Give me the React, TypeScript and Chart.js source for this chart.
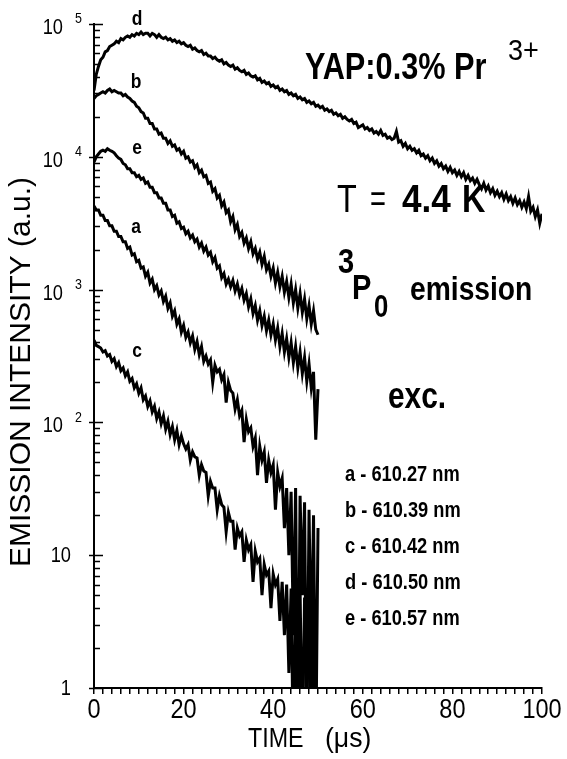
import React, { useEffect, useRef } from 'react';
import { Chart, registerables } from 'chart.js';

Chart.register(...registerables);

// ---- data (time step 0.5 us) ----
const T_STEP = 0.5;

const curveIds = ['a', 'b', 'c', 'd', 'e'];
const excitationNm = ['610.27', '610.39', '610.42', '610.50', '610.57'];

const intensityA = [
  4270, 3980, 3980, 3630, 3630, 3310, 3310, 3020, 3020, 2750,
  2750, 2510, 2510, 2290, 2290, 2040, 2090, 1820, 1860, 1620,
  1660, 1450, 1480, 1260, 1350, 1120, 1200, 1000, 1070, 912,
  977, 813, 891, 724, 794, 631, 692, 550, 603, 479,
  537, 437, 479, 398, 447, 355, 407, 324, 372, 288,
  316, 275, 295, 200, 269, 240, 251, 209, 229, 141,
  200, 174, 166, 126, 148, 112, 123, 71, 105, 85,
  91, 66, 76, 40, 66, 52, 60, 35, 52, 42,
  48, 22, 42, 33, 38, 16, 32, 10, 30, 2.5,
  32, 0.3, 28, 5, 25, 0.3, 22, 1.6, 20, 0.3,
  16,
];

const intensityB = [
  27500, 28800, 29500, 30200, 30900, 30200, 31600, 32400, 30900, 31600,
  30900, 30200, 30200, 28800, 29500, 28200, 27500, 26300, 25700, 24000,
  23400, 21900, 21400, 19500, 19500, 17800, 17800, 16200, 16200, 14800,
  15100, 13800, 13800, 12600, 13200, 12000, 12300, 11200, 11500, 10500,
  11000, 9770, 10000, 9120, 9330, 8320, 8710, 7590, 7940, 7080,
  7240, 6310, 6460, 5500, 5750, 4900, 5130, 4270, 4570, 3800,
  3980, 3240, 3550, 2820, 3090, 2510, 2690, 2240, 2450, 2040,
  2290, 1860, 2040, 1700, 1910, 1550, 1780, 1410, 1550, 1260,
  1450, 1120, 1350, 1050, 1260, 955, 1150, 871, 1100, 794,
  1000, 724, 933, 676, 851, 603, 759, 550, 692, 501,
  457,
];

const intensityC = [
  417, 380, 372, 363, 339, 347, 316, 324, 288, 302,
  263, 282, 245, 257, 224, 240, 204, 214, 182, 195,
  166, 182, 148, 158, 132, 145, 120, 132, 107, 120,
  98, 112, 89, 102, 81, 93, 74, 87, 68, 79,
  69, 63, 68, 52, 60, 55, 54, 40, 48, 43,
  42, 28, 36, 32, 32, 22, 28, 24, 23, 15,
  21, 18, 18, 11, 16, 14, 15, 8.9, 13, 11,
  12, 6.3, 10.7, 8.9, 9.5, 5.0, 8.5, 7.1, 7.6, 4.0,
  7.2, 6.0, 6.6, 3.2, 6.3, 2.5, 6.0, 1.3, 5.6, 0.3,
  5.2, 0.5, 5.6, 0.3, 4.8, 2.0, 5.0, 0.3, 4.5, 0.6,
  0.3,
];

const intensityD = [
  31600, 41700, 47900, 53700, 56200, 61700, 63100, 67600, 69200, 70800,
  74100, 72400, 77600, 75900, 79400, 81300, 79400, 83200, 81300, 85100,
  83200, 87100, 83200, 85100, 85100, 81300, 85100, 83200, 79400, 83200,
  79400, 77600, 79400, 75900, 77600, 74100, 75900, 72400, 74100, 70800,
  72400, 69200, 67600, 69200, 64600, 66100, 63100, 61700, 63100, 58900,
  60300, 57500, 57500, 55000, 56200, 53700, 52500, 53700, 50100, 51300,
  49000, 47900, 49000, 45700, 46800, 44700, 43700, 44700, 41700, 42700,
  40700, 39800, 40700, 38000, 38900, 36300, 37200, 35500, 36300, 33900,
  34700, 33100, 33900, 31600, 32400, 30900, 31600, 29500, 30200, 28800,
  29500, 27500, 28200, 26900, 27500, 25700, 26300, 25100, 25700, 24000,
  24500, 23400, 24000, 22400, 22900, 21900, 22400, 20900, 21400, 20400,
  20900, 19500, 20000, 19100, 18600, 19100, 17800, 18200, 16600, 17000,
  17400, 16200, 16600, 15800, 16200, 15100, 15500, 14800, 15800, 14500,
  14800, 13800, 14100, 13500, 13800, 15500, 12900, 13200, 12000, 12600,
  11500, 12000, 11200, 11500, 10700, 11200, 10200, 10500, 9770, 10200,
  9330, 9770, 8910, 9330, 8510, 8910, 8130, 8510, 7760, 8320,
  7590, 7940, 7240, 7760, 7080, 7590, 6760, 7240, 6610, 6920,
  6310, 6760, 6170, 5750, 6310, 5620, 6030, 5370, 5750, 5130,
  5500, 5010, 5370, 4790, 5250, 4680, 5010, 4470, 4900, 4370,
  4680, 4170, 4570, 4070, 5010, 3890, 4170, 3550, 3980, 3160,
  3720,
];

const intensityE = [
  9120, 10000, 10500, 11000, 11200, 11000, 11500, 11200, 11000, 10700,
  10200, 9770, 9550, 8910, 8710, 8130, 8130, 7590, 7590, 7080,
  7240, 6760, 6920, 6310, 6460, 5890, 5890, 5370, 5370, 4900,
  4900, 4470, 4470, 3980, 3980, 3550, 3630, 3160, 3240, 2880,
  2950, 2630, 2750, 2450, 2570, 2290, 2400, 2090, 2240, 1950,
  2090, 1820, 1910, 1620, 1740, 1450, 1510, 1230, 1320, 1100,
  1200, 1050, 1170, 977, 1100, 912, 1020, 832, 933, 741,
  851, 661, 759, 589, 692, 537, 631, 490, 589, 457,
  550, 417, 513, 372, 468, 339, 427, 309, 398, 282,
  372, 257, 339, 234, 309, 204, 275, 182, 240, 74,
  178,
];

const seriesValues = [intensityA, intensityB, intensityC, intensityD, intensityE];

const xTickLabels = [0, 20, 40, 60, 80, 100];
const yDecades = [1, 10, 100, 1000, 10000, 100000];
const yTickBase = ['1', '10', '10', '10', '10', '10'];
const yTickExp = ['', '', '2', '3', '4', '5'];

const Y_TITLE = 'EMISSION INTENSITY (a.u.)';

// ---- styling / layout ----
const SANS = "'Liberation Sans', Arial, sans-serif";
const NARROW_X = 0.83; // horizontal squeeze to mimic a condensed face

const curveLabelPos: Record<string, [number, number]> = {
  d: [137, 19],
  b: [136, 82],
  e: [137, 148],
  a: [136, 227],
  c: [137, 351],
};

function txt(
  ctx: CanvasRenderingContext2D,
  s: string,
  x: number,
  y: number,
  font: string,
  align: CanvasTextAlign = 'left',
  sx: number = NARROW_X,
) {
  ctx.save();
  ctx.font = font;
  ctx.textAlign = align;
  ctx.textBaseline = 'middle';
  ctx.translate(x, y);
  ctx.scale(sx, 1);
  ctx.fillText(s, 0, 0);
  ctx.restore();
}

const decorPlugin = {
  id: 'decor',
  afterDraw(chart: any) {
    const { ctx, chartArea } = chart;
    const ys = chart.scales.y;
    const xs = chart.scales.x;
    const L = chartArea.left;
    const B = chartArea.bottom;
    ctx.save();
    ctx.strokeStyle = '#000';
    ctx.fillStyle = '#000';
    ctx.lineWidth = 1.5;

    // inside ticks on the log axis
    ctx.beginPath();
    yDecades.forEach((dv, i) => {
      const py = Math.round(ys.getPixelForValue(dv)) + 0.5;
      ctx.moveTo(L - 5, py);
      ctx.lineTo(L + 9, py);
      if (i < yDecades.length - 1) {
        for (let m = 2; m <= 9; m++) {
          const p = Math.round(ys.getPixelForValue(dv * m)) + 0.5;
          ctx.moveTo(L, p);
          ctx.lineTo(L + 6, p);
        }
      }
    });
    ctx.stroke();

    // y tick labels with exponents
    yDecades.forEach((dv, i) => {
      const py = ys.getPixelForValue(dv);
      if (!yTickExp[i]) {
        txt(ctx, yTickBase[i], L - 23, py + 1, `22px ${SANS}`, 'right');
      } else {
        txt(ctx, yTickBase[i], L - 31, py + 4, `22px ${SANS}`, 'right');
        txt(ctx, yTickExp[i], L - 19, py - 5, `15px ${SANS}`, 'left');
      }
    });

    // x tick labels
    xTickLabels.forEach((v) => {
      txt(ctx, String(v), xs.getPixelForValue(v), B + 22, `28px ${SANS}`, 'center', 0.84);
    });

    // y title
    ctx.save();
    ctx.translate(22, 372);
    ctx.rotate(-Math.PI / 2);
    ctx.font = `30px ${SANS}`;
    ctx.textAlign = 'center';
    ctx.textBaseline = 'middle';
    ctx.fillText(Y_TITLE, 0, 0);
    ctx.restore();

    // x title
    txt(ctx, 'TIME', 248, 739, `28px ${SANS}`, 'left');
    txt(ctx, '(\u03bcs)', 325, 739, `28px ${SANS}`, 'left', 0.95);

    // curve letters
    curveIds.forEach((id) => {
      const [px, py] = curveLabelPos[id];
      txt(ctx, id, px, py, `bold 21px ${SANS}`, 'center');
    });

    // text block
    txt(ctx, 'YAP:0.3% Pr', 305, 69, `bold 37px ${SANS}`);
    txt(ctx, '3+', 508, 52, `30px ${SANS}`, 'left', 0.9);
    txt(ctx, 'T', 337, 201, `39px ${SANS}`);
    txt(ctx, '=', 370, 201, `39px ${SANS}`, 'left', 0.7);
    txt(ctx, '4.4', 402, 201, `bold 39px ${SANS}`, 'left', 0.9);
    txt(ctx, 'K', 462, 201, `bold 39px ${SANS}`);
    txt(ctx, '3', 338, 263, `bold 35px ${SANS}`);
    txt(ctx, 'P', 352, 289, `bold 35px ${SANS}`);
    txt(ctx, '0', 374, 308, `bold 31px ${SANS}`);
    txt(ctx, 'emission', 410, 291, `bold 34px ${SANS}`);
    txt(ctx, 'exc.', 388, 398, `bold 36px ${SANS}`);

    curveIds.forEach((id, i) => {
      txt(ctx, `${id} - ${excitationNm[i]} nm`, 345, 475 + i * 36, `bold 22px ${SANS}`);
    });
    ctx.restore();
  },
};

export default function App() {
  const canvasRef = useRef<HTMLCanvasElement | null>(null);

  useEffect(() => {
    if (!canvasRef.current) return;
    const datasets = seriesValues.map((vals, k) => ({
      label: curveIds[k],
      data: vals.map((v, i) => ({ x: i * T_STEP, y: v })),
      borderColor: '#000',
      borderWidth: 3,
      pointRadius: 0,
      tension: 0,
      fill: false,
    }));

    const chart = new Chart(canvasRef.current, {
      type: 'line',
      data: { datasets },
      plugins: [decorPlugin],
      options: {
        animation: false,
        responsive: true,
        maintainAspectRatio: false,
        layout: { padding: { left: 0, right: 25, top: 24, bottom: 0 } },
        plugins: {
          legend: { display: false },
          tooltip: { enabled: false },
        },
        scales: {
          x: {
            type: 'linear',
            min: 0,
            max: 100,
            afterFit: (s: any) => {
              s.height = 71;
            },
            afterBuildTicks: (s: any) => {
              const t = [];
              for (let v = 0; v <= 100; v += 2) t.push({ value: v });
              s.ticks = t;
            },
            ticks: { display: false, autoSkip: false },
            grid: {
              drawOnChartArea: false,
              drawTicks: true,
              tickLength: 6,
              color: '#000',
              lineWidth: 1.5,
            },
            border: { display: true, color: '#000', width: 2 },
          },
          y: {
            type: 'logarithmic',
            min: 1,
            max: 100000,
            afterFit: (s: any) => {
              s.width = 94;
            },
            ticks: { display: false },
            grid: { display: false, drawOnChartArea: false, drawTicks: false },
            border: { display: true, color: '#000', width: 2 },
          },
        },
      },
    });
    return () => chart.destroy();
  }, []);

  return (
    <div style={{ position: 'absolute', left: 0, top: 0, width: 567, height: 759, background: '#fff' }}>
      <canvas ref={canvasRef} />
    </div>
  );
}
